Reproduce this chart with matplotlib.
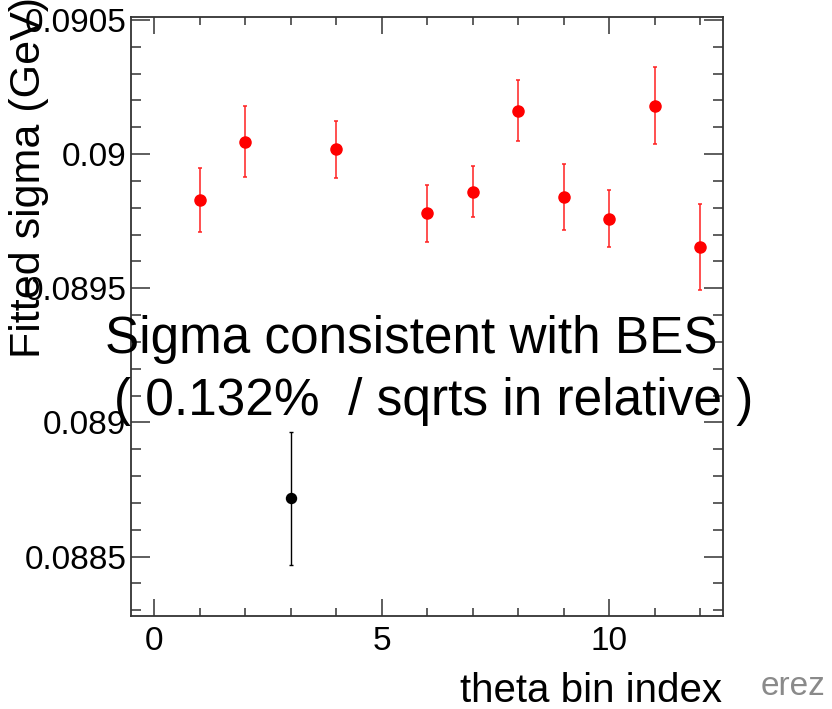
import matplotlib.pyplot as plt
from matplotlib.ticker import MultipleLocator

# ---------------- DATA ---------------- #
# fitted sigma per theta bin (red = consistent bins, black = outlier bin)
red_bins = [1, 2, 4, 6, 7, 8, 9, 10, 11, 12]
red_sigma = [0.089828, 0.090047, 0.090018, 0.089779, 0.089860,
             0.090162, 0.089841, 0.089760, 0.090181, 0.089655]
red_err = [0.000119, 0.000132, 0.000107, 0.000105, 0.000095,
           0.000113, 0.000124, 0.000106, 0.000142, 0.000160]

black_bins = [3]
black_sigma = [0.088717]
black_err = [0.000247]

x_ticks = [0, 5, 10]
y_ticks = [0.0885, 0.089, 0.0895, 0.09, 0.0905]
y_tick_labels = ["0.0885", "0.089", "0.0895", "0.09", "0.0905"]

# ---------------- STYLE ---------------- #
W, H = 832, 709
FONT = "Liberation Sans"
AXIS_COLOR = "#333333"
plt.rcParams['font.family'] = [FONT, 'DejaVu Sans']


def fx(px):
    return px / W


def fy(py):
    return 1 - py / H


fig = plt.figure(figsize=(W / 100, H / 100), dpi=100, facecolor="white")
ax = fig.add_axes([fx(131.3), fy(615.7), fx(723) - fx(131.3), fy(17.3) - fy(615.7)])

ax.errorbar(red_bins, red_sigma, yerr=red_err, fmt='o', color="#ff0000",
            ecolor="#ff2020", markersize=8, elinewidth=1.1, capsize=1.6,
            capthick=1.1)
ax.errorbar(black_bins, black_sigma, yerr=black_err, fmt='o', color="black",
            ecolor="black", markersize=7.2, elinewidth=1.0, capsize=1.6,
            capthick=1.0)

ax.set_xlim(-0.5, 12.5)
ax.set_ylim(0.08828, 0.09051)

ax.set_xticks(x_ticks)
ax.set_xticklabels([str(t) for t in x_ticks])
ax.set_yticks(y_ticks)
ax.set_yticklabels(y_tick_labels)
ax.xaxis.set_minor_locator(MultipleLocator(1))
ax.yaxis.set_minor_locator(MultipleLocator(0.0001))

ax.tick_params(which='both', direction='in', top=True, right=True,
               color=AXIS_COLOR, width=1.1, labelsize=24)
ax.tick_params(axis='y', which='major', length=13.5, pad=3.6)
ax.tick_params(axis='y', which='minor', length=7)
ax.tick_params(axis='x', which='major', length=12, pad=7.5)
ax.tick_params(axis='x', which='minor', length=6)

for spine in ax.spines.values():
    spine.set_color(AXIS_COLOR)
    spine.set_linewidth(1.3)

# ---------------- LABELS ---------------- #
fig.text(fx(722), fy(701.7), "theta bin index", fontsize=29,
         ha='right', va='baseline')
fig.text(fx(40), fy(358), "Fitted sigma (GeV)", fontsize=31, rotation=90,
         rotation_mode='anchor', ha='left', va='baseline')

fig.text(fx(105), fy(353), "Sigma consistent with BES", fontsize=36.9,
         ha='left', va='baseline')
fig.text(fx(114), fy(415), "( 0.132%  / sqrts in relative )", fontsize=37,
         ha='left', va='baseline')

fig.text(fx(761), fy(695), "erez", fontsize=24, color="#8a8a8a",
         ha='left', va='baseline')

fig.savefig("out.png", dpi=100, facecolor="white")
